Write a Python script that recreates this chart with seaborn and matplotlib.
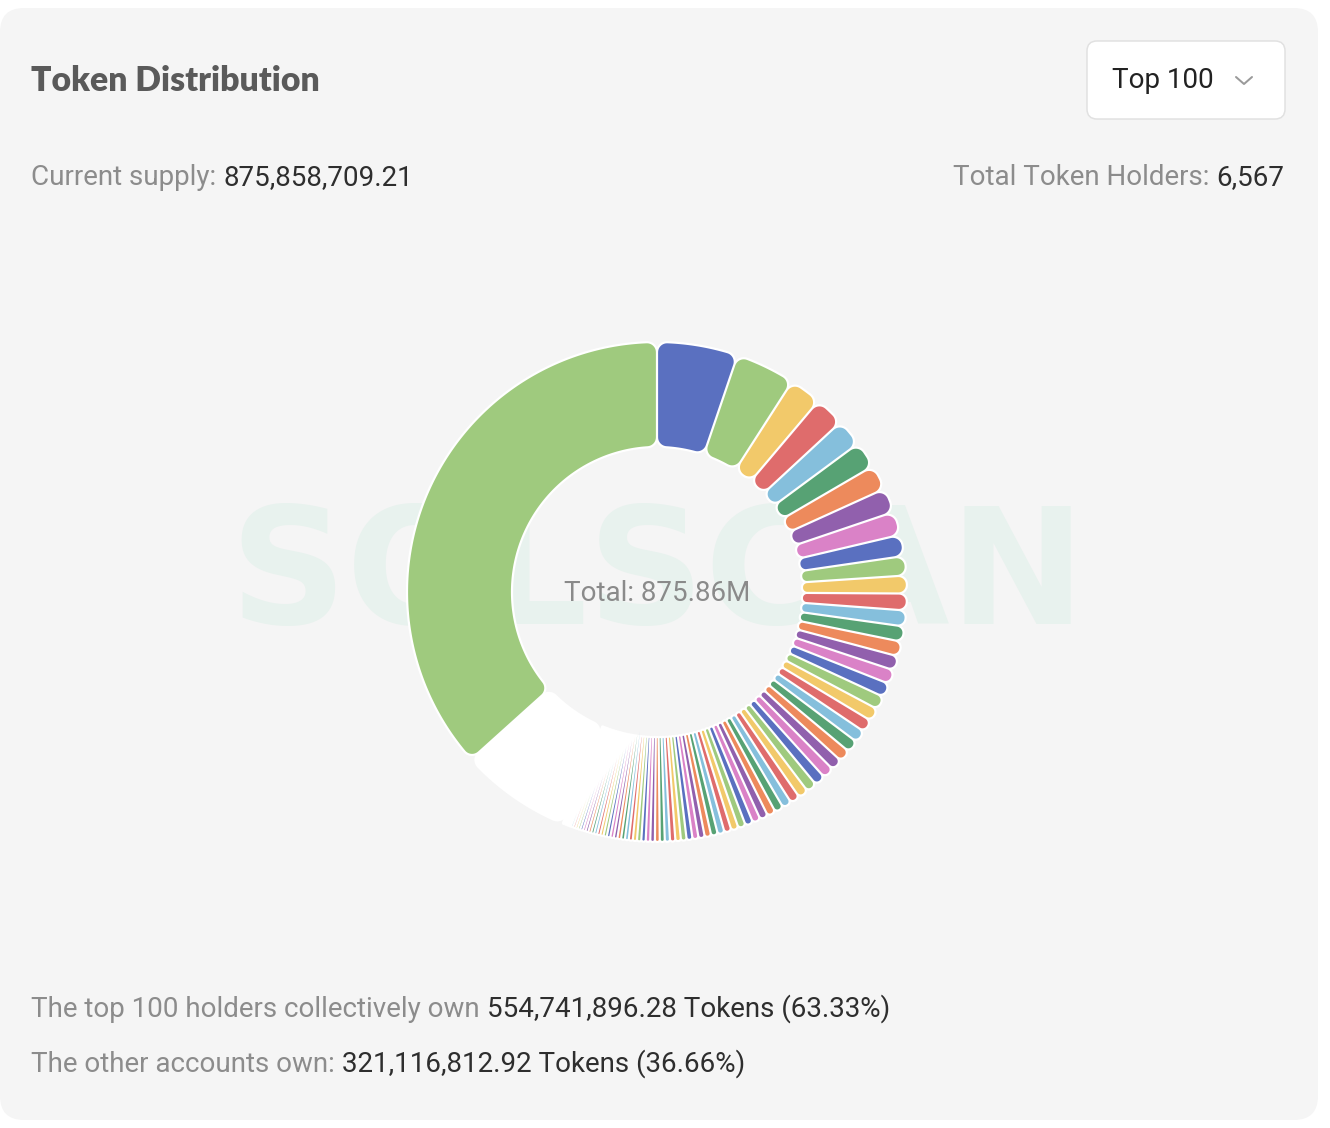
import numpy as np
import matplotlib
matplotlib.use("Agg")
import matplotlib.pyplot as plt
import seaborn as sns
from matplotlib.patches import FancyBboxPatch, Polygon
from matplotlib.lines import Line2D

# ---- data -------------------------------------------------------------
supply_total = 875_858_709.21
top100_total = 554_741_896.28
others_total = 321_116_812.92
holder_count = 6567

# balances of the top holders that are visible on the ring (millions of tokens)
holder_balances_m = [
    45.74, 33.82, 18.25, 17.03, 15.45, 15.08, 14.23, 13.87, 13.26, 12.04,
    10.95, 10.10, 9.49, 9.00, 8.64, 8.39, 8.15, 8.03, 7.91, 7.66,
    7.42, 7.18, 7.06, 6.93, 6.81, 6.57, 6.45, 6.20, 5.96, 5.72,
    5.47, 5.23, 4.99, 4.74, 4.62, 4.50, 4.38, 4.26, 4.14, 4.01,
    3.89, 3.77, 3.65, 3.53, 3.41, 3.31, 3.21, 3.11, 3.02, 2.92,
    2.82, 2.72, 2.63, 2.55, 2.48, 2.41, 2.34, 2.26, 2.19, 2.14,
    2.09, 2.04, 2.00, 1.95, 1.90, 1.85, 1.80, 1.75, 1.70, 1.65,
    1.61, 1.56, 1.51, 1.46, 1.41, 1.36, 1.31, 1.27, 1.22, 1.17,
    1.12,
]
# remainder of the top 100 that shows up as a white band
rest_of_top_m = top100_total / 1e6 - sum(holder_balances_m)
others_m = others_total / 1e6

palette = sns.color_palette([
    "#5a70c0", "#9fca7e", "#f2c96a", "#df6c6c", "#85bfdc",
    "#57a274", "#ed8a5c", "#9160ad", "#da82c7",
])
others_color = "#9fca7e"

# ---- style ------------------------------------------------------------
sns.set_theme(style="white")
plt.rcParams["font.family"] = ["Roboto", "DejaVu Sans"]

W, H = 1330, 1128
PT = 72 / 100  # points per pixel
LABEL = "#8c8c8c"
VALUE = "#2e2e2e"
FS = 20


def pct(part):
    # the page truncates percentages to two decimals
    return np.floor(part / supply_total * 10000) / 100


fig = plt.figure(figsize=(W / 100, H / 100), dpi=100)
fig.patch.set_facecolor("white")

bg = fig.add_axes([0, 0, 1, 1])
bg.set_xlim(0, W)
bg.set_ylim(H, 0)
bg.axis("off")

# card + dropdown
bg.add_patch(FancyBboxPatch((0, 8), 1318, 1112, boxstyle="round,pad=0,rounding_size=24",
                            fc="#f5f5f5", ec="none"))
bg.add_patch(FancyBboxPatch((1087, 41), 198, 78, boxstyle="round,pad=0,rounding_size=10",
                            fc="white", ec="#e1e1e1", lw=1.5 * PT))
bg.add_line(Line2D([1236, 1244, 1252], [77, 84, 77], color="#9a9a9a", lw=2 * PT,
                   solid_capstyle="round", solid_joinstyle="round"))

# watermark
bg.text(658, 580, "SOLSCAN", fontsize=117, fontweight="bold", color="#e8f2ee",
        ha="center", va="center", family="DejaVu Sans")

# header texts
bg.text(31, 91, "Token Distribution", fontsize=24.3, fontweight="heavy", color="#5a5a5a",
        family=["Lato", "DejaVu Sans"], va="baseline")
bg.text(1112, 88, "Top 100", fontsize=FS, color="#222222", va="baseline")


def label_value(x, y, label, value, align="left"):
    if align == "left":
        t = bg.text(x, y, label, fontsize=FS, color=LABEL, va="baseline")
        bg.annotate(value, xy=(1, 0), xycoords=t, xytext=(7, 0), textcoords="offset pixels",
                    fontsize=FS, color=VALUE, va="bottom", ha="left")
    else:
        t = bg.text(x, y, value, fontsize=FS, color=VALUE, va="baseline", ha="right")
        bg.annotate(label, xy=(0, 0), xycoords=t, xytext=(-7, 0), textcoords="offset pixels",
                    fontsize=FS, color=LABEL, va="bottom", ha="right")


label_value(31, 185, "Current supply:", f"{supply_total:,.2f}")
label_value(1284, 185, "Total Token Holders:", f"{holder_count:,}", align="right")
label_value(31, 1017, "The top 100 holders collectively own",
            f"{top100_total:,.2f} Tokens ({pct(top100_total):.2f}%)")
label_value(31, 1072, "The other accounts own:",
            f"{others_total:,.2f} Tokens ({pct(others_total):.2f}%)")

# ---- ring ---------------------------------------------------------------
CX, CY, HALF = 657, 592, 300
R_OUT, R_IN = 250, 145
CORNER, GAP = 10, 1.1

ax = fig.add_axes([(CX - HALF) / W, (H - CY - HALF) / H, 2 * HALF / W, 2 * HALF / H])
ax.patch.set_alpha(0)

values = holder_balances_m + [rest_of_top_m, others_m]
colors = [palette[i % len(palette)] for i in range(len(holder_balances_m))] + ["white", others_color]
wedges, _ = ax.pie(values, colors=colors, startangle=90, counterclock=False,
                   radius=R_OUT, wedgeprops=dict(width=R_OUT - R_IN))
ax.set_xlim(-HALF, HALF)
ax.set_ylim(-HALF, HALF)
ax.set_axis_off()


def rounded_sector(mid, half, r_out, r_in, inset, corner):
    """Annular sector shrunk by `inset` with rounded corners, as a polygon."""
    s = np.sin(half)
    ro, ri = r_out - inset, r_in + inset
    room = ro * s - inset
    if room <= 0.05:
        return None
    co = min(corner, 0.95 * room / (1 + s), 0.45 * (ro - ri))
    rco = ro - co
    bo = half - np.arcsin((inset + co) / rco)
    upper = []
    a = np.linspace(0, bo, max(3, int(bo * ro / 2)))
    upper += list(zip(ro * np.cos(a), ro * np.sin(a)))
    t = np.linspace(bo, half + np.pi / 2, 12)
    upper += list(zip(rco * np.cos(bo) + co * np.cos(t), rco * np.sin(bo) + co * np.sin(t)))
    room_in = ri * s - inset
    if room_in > 0.05:
        ci = min(corner, 0.95 * room_in / (1 - s), 0.45 * (ro - ri))
        rci = ri + ci
        bi = half - np.arcsin((inset + ci) / rci)
        t = np.linspace(half + np.pi / 2, bi + np.pi, 12)
        upper += list(zip(rci * np.cos(bi) + ci * np.cos(t), rci * np.sin(bi) + ci * np.sin(t)))
        a = np.linspace(bi, 0, max(3, int(abs(bi) * ri / 2)))
        upper += list(zip(ri * np.cos(a), ri * np.sin(a)))
    else:
        apex = inset / s
        if apex >= rco:
            return None
        upper.append((apex, 0.0))
    upper = np.array(upper)
    pts = np.vstack([upper, upper[::-1] * [1, -1]])
    c, sn = np.cos(mid), np.sin(mid)
    return pts @ np.array([[c, sn], [-sn, c]])


# white borders first, then the fills shrunk inside them
for layer in ("border", "fill"):
    for w in wedges:
        w.set_visible(False)
        t1, t2 = np.deg2rad(w.theta1), np.deg2rad(w.theta2)
        mid, half = (t1 + t2) / 2, (t2 - t1) / 2
        if layer == "border":
            pts = rounded_sector(mid, half, R_OUT, R_IN, -GAP, CORNER + GAP)
            fc, z = "white", 1
        else:
            pts = rounded_sector(mid, half, R_OUT, R_IN, GAP, CORNER - GAP)
            fc, z = w.get_facecolor(), 2
        if pts is not None:
            ax.add_patch(Polygon(pts, closed=True, fc=fc, ec="none", lw=0, zorder=z))

ax.text(0, -9, f"Total: {supply_total / 1e6:.2f}M", fontsize=FS, color="#8a8a8a",
        ha="center", va="baseline", zorder=5)

fig.savefig("out.png", dpi=100, facecolor=fig.get_facecolor())
